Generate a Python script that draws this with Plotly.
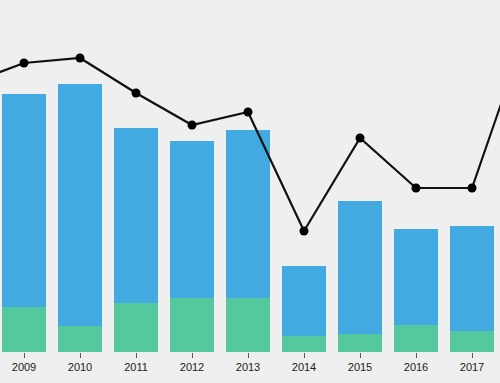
import plotly.graph_objects as go

years = [2009, 2010, 2011, 2012, 2013, 2014, 2015, 2016, 2017]
green_vals = [45, 26, 49, 54, 54, 16, 18, 27, 21]
blue_vals = [213, 242, 175, 157, 168, 70, 133, 96, 105]
line_years = [2008, 2009, 2010, 2011, 2012, 2013, 2014, 2015, 2016, 2017, 2018]
line_vals = [268, 289, 294, 259, 227, 240, 121, 214, 164, 164, 326]
tick_labels = [str(y) for y in years]

fig = go.Figure()
fig.add_trace(go.Bar(x=years, y=green_vals, marker=dict(color="#55c89e", line=dict(width=0)), width=0.8))
fig.add_trace(go.Bar(x=years, y=blue_vals, marker=dict(color="#42a9e1", line=dict(width=0)), width=0.8))
fig.add_trace(go.Scatter(x=line_years, y=line_vals, mode="lines+markers",
                         line=dict(color="#111111", width=2.2),
                         marker=dict(color="#000000", size=9)))

fig.update_layout(
    barmode="stack",
    width=500, height=383,
    margin=dict(l=0, r=0, t=0, b=31),
    paper_bgcolor="#efefef", plot_bgcolor="#efefef",
    showlegend=False,
    font=dict(family="Liberation Sans, Arial, sans-serif", size=11, color="#222222"),
)
fig.update_xaxes(range=[2009 - 24/56, 2009 + 476/56], tickvals=years, ticktext=tick_labels,
                 ticks="outside", ticklen=5, tickcolor="#555555", tickwidth=1,
                 showgrid=False, zeroline=False, showline=False)
fig.update_yaxes(range=[0, 352], visible=False, showgrid=False, zeroline=False)

fig.write_html("out.html", config={"displayModeBar": False},
               post_script="document.body.style.margin='0';document.body.style.background='#efefef';")
